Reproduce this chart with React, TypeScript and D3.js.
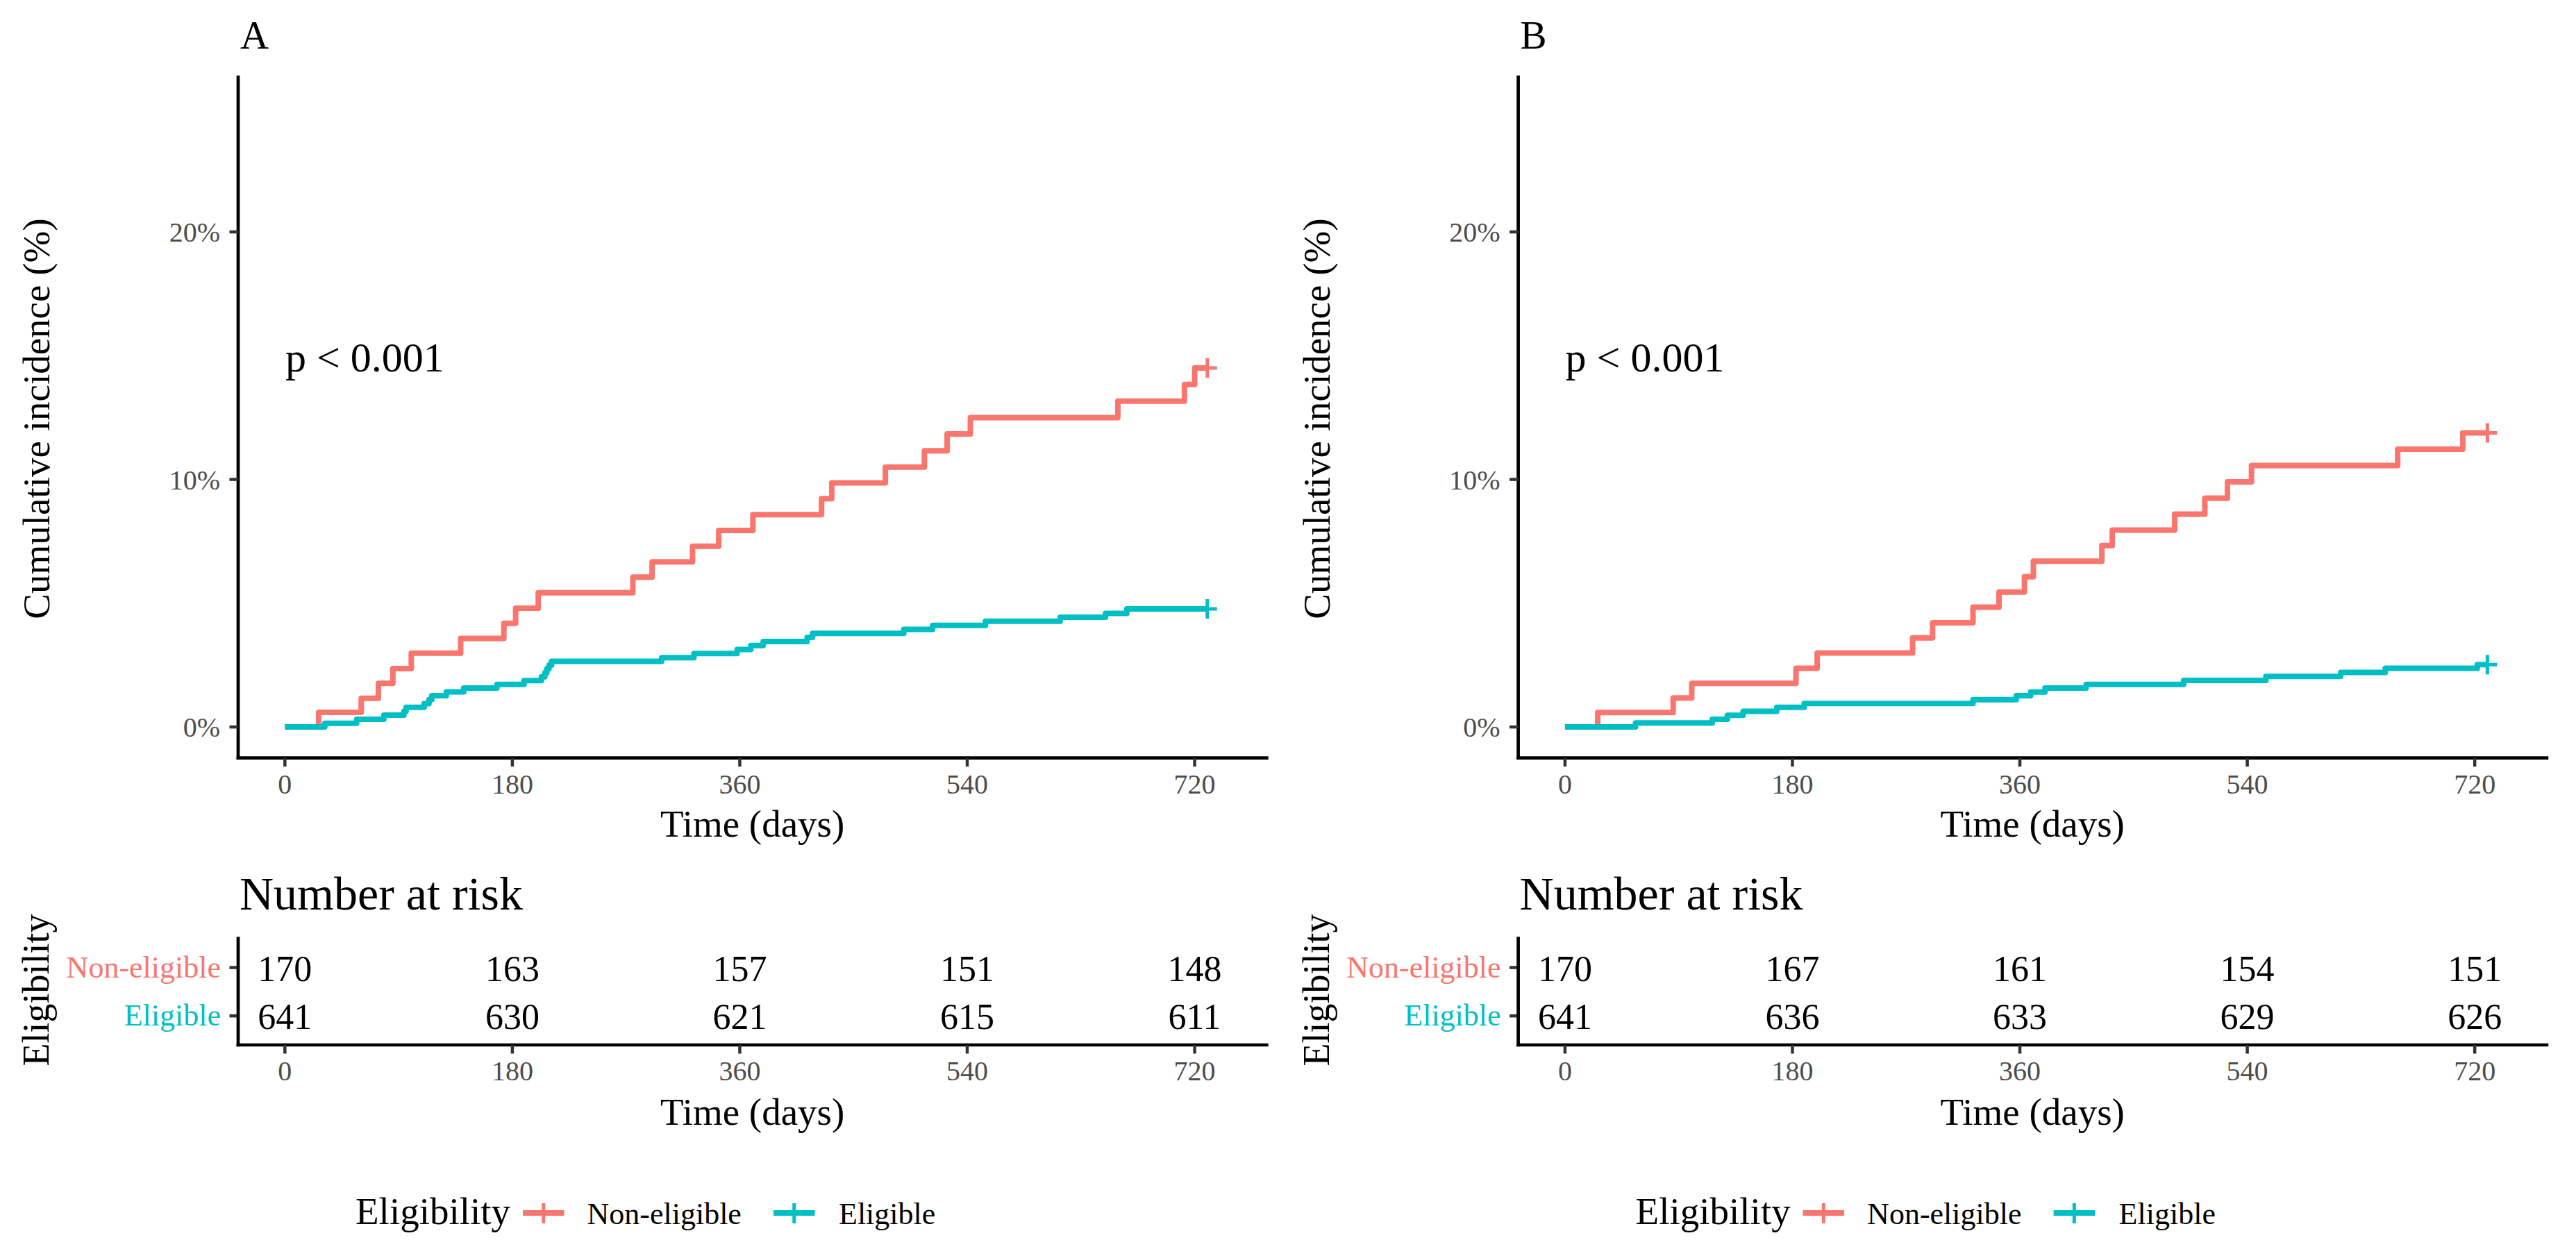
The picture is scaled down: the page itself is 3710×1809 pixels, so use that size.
import React from "react";
import * as d3 from "d3";

// ---------- data ----------
const tickDays = [0, 180, 360, 540, 720];
const yTicks = [0, 10, 20];
const groupNames = ["Non-eligible", "Eligible"];
const groupColors = ["#F8766D", "#00BFC4"];
const panelTags = ["A", "B"];
const pValueLabels = ["p < 0.001", "p < 0.001"];
const lastDay = 730;

// Panel A – cumulative incidence (%) step events
const timesA_non = [26.7, 60.4, 74.0, 85.4, 100.0, 139.1, 173.3, 182.6, 200.5, 275.4, 290.6, 322.6, 343.3, 370.4, 424.7, 432.8, 475.2, 506.1, 524.1, 542.5, 659.2, 711.9, 720];
const cumA_non = [0.59, 1.16, 1.76, 2.36, 2.98, 3.58, 4.19, 4.80, 5.42, 6.05, 6.67, 7.30, 7.94, 8.58, 9.22, 9.86, 10.50, 11.16, 11.84, 12.50, 13.16, 13.84, 14.50];
const timesA_eli = [31.6, 56.8, 78.3, 94.2, 95.9, 110.2, 114.0, 116.2, 127.8, 141.5, 167.8, 189.2, 203.0, 205.7, 207.3, 209.0, 211.0, 298.2, 323.7, 357.9, 368.7, 378.5, 413.3, 417.6, 489.8, 512.6, 554.4, 613.6, 649.4, 666.3];
const cumA_eli = [0.15, 0.31, 0.48, 0.63, 0.79, 0.94, 1.10, 1.26, 1.42, 1.57, 1.72, 1.87, 2.03, 2.19, 2.35, 2.50, 2.65, 2.80, 2.97, 3.13, 3.29, 3.45, 3.62, 3.78, 3.94, 4.10, 4.27, 4.43, 4.59, 4.77];
const riskA_non = [170, 163, 157, 151, 148];
const riskA_eli = [641, 630, 621, 615, 611];

// Panel B
const timesB_non = [25.9, 85.6, 100.3, 182.8, 199.6, 275.1, 290.9, 322.9, 343.5, 363.6, 370.7, 424.9, 433.1, 482.5, 506.4, 524.3, 543.3, 659.0, 710.5];
const cumB_non = [0.58, 1.17, 1.76, 2.37, 2.99, 3.60, 4.21, 4.84, 5.45, 6.07, 6.70, 7.33, 7.95, 8.60, 9.24, 9.90, 10.56, 11.22, 11.88];
const timesB_eli = [55.8, 116.6, 128.5, 141.0, 167.6, 189.3, 322.9, 357.1, 368.5, 379.9, 412.5, 489.6, 554.7, 613.9, 649.2, 722.0];
const cumB_eli = [0.16, 0.31, 0.47, 0.63, 0.79, 0.95, 1.10, 1.26, 1.41, 1.57, 1.72, 1.88, 2.04, 2.20, 2.37, 2.52];
const riskB_non = [170, 167, 161, 154, 151];
const riskB_eli = [641, 636, 633, 629, 626];

const panelSeries = [
  [
    { times: timesA_non, cum: cumA_non },
    { times: timesA_eli, cum: cumA_eli },
  ],
  [
    { times: timesB_non, cum: cumB_non },
    { times: timesB_eli, cum: cumB_eli },
  ],
];
const panelRisk = [
  [riskA_non, riskA_eli],
  [riskB_non, riskB_eli],
];

// ---------- layout ----------
const W = 3710;
const H = 1809;
const FONT = "'Liberation Serif', 'Times New Roman', serif";
const panelOffsets = [0, 1843.6];

const xScale = d3.scaleLinear().domain([-37, 777]).range([343, 1824.3]);
const yScale = d3.scaleLinear().domain([-1.25, 26.25]).range([1091.6, 111.2]);
const riskY = d3.scaleLinear().domain([0.4, 2.6]).range([1505, 1351.7]);

const stepLine = d3
  .line<[number, number]>()
  .x((d) => xScale(d[0]))
  .y((d) => yScale(d[1]))
  .curve(d3.curveStepAfter);

function Panel({ idx }: { idx: number }) {
  const ox = panelOffsets[idx];
  const series = panelSeries[idx];
  const risk = panelRisk[idx];
  const x0 = xScale.range()[0];
  const x1 = xScale.range()[1];
  const yTop = yScale.range()[1];
  const yBot = yScale.range()[0];
  const rTop = riskY.range()[1];
  const rBot = riskY.range()[0];
  const midX = (x0 + x1) / 2;
  const tickCol = "#333333";
  const labCol = "#4D4D4D";

  return (
    <g transform={`translate(${ox},0)`}>
      {/* tag */}
      <text x={346} y={70} fontSize={57} fontFamily={FONT} fill="#000">
        {panelTags[idx]}
      </text>

      {/* y axis title */}
      <text
        transform={`translate(71,603) rotate(-90)`}
        textAnchor="middle"
        fontSize={55}
        fontFamily={FONT}
        fill="#000"
      >
        Cumulative incidence (%)
      </text>

      {/* curves */}
      {series.map((s, gi) => {
        const pts: [number, number][] = [[0, 0]];
        s.times.forEach((t, i) => pts.push([t, s.cum[i]]));
        pts.push([lastDay, s.cum[s.cum.length - 1]]);
        const cx = xScale(lastDay);
        const cy = yScale(s.cum[s.cum.length - 1]);
        return (
          <g key={gi}>
            <path
              d={stepLine(pts) || ""}
              fill="none"
              stroke={groupColors[gi]}
              strokeWidth={8}
              strokeLinejoin="round"
              strokeLinecap="butt"
            />
            <path
              d={`M${cx - 14},${cy}H${cx + 14}M${cx},${cy - 14}V${cy + 14}`}
              stroke={groupColors[gi]}
              strokeWidth={5}
              fill="none"
            />
          </g>
        );
      })}

      {/* p value */}
      <text x={411} y={535} fontSize={60} fontFamily={FONT} fill="#000">
        {pValueLabels[idx]}
      </text>

      {/* main axes */}
      <line x1={x0} x2={x0} y1={yTop} y2={yBot} stroke="#000" strokeWidth={4.7} strokeLinecap="square" />
      <line x1={x0} x2={x1} y1={yBot} y2={yBot} stroke="#000" strokeWidth={4.7} strokeLinecap="square" />
      {yTicks.map((v) => (
        <g key={v}>
          <line x1={330.5} x2={x0} y1={yScale(v)} y2={yScale(v)} stroke={tickCol} strokeWidth={4.5} />
          <text
            x={317}
            y={yScale(v) + 14}
            textAnchor="end"
            fontSize={40}
            fontFamily={FONT}
            fill={labCol}
          >
            {v + "%"}
          </text>
        </g>
      ))}
      {tickDays.map((t) => (
        <g key={t}>
          <line x1={xScale(t)} x2={xScale(t)} y1={yBot} y2={yBot + 12.5} stroke={tickCol} strokeWidth={4.5} />
          <text x={xScale(t)} y={1143} textAnchor="middle" fontSize={40} fontFamily={FONT} fill={labCol}>
            {t}
          </text>
        </g>
      ))}
      <text x={midX} y={1205} textAnchor="middle" fontSize={55} fontFamily={FONT} fill="#000">
        Time (days)
      </text>

      {/* risk table */}
      <text x={345} y={1310} fontSize={68} fontFamily={FONT} fill="#000">
        Number at risk
      </text>
      <text
        transform={`translate(70,1426) rotate(-90)`}
        textAnchor="middle"
        fontSize={54}
        fontFamily={FONT}
        fill="#000"
      >
        Eligibility
      </text>
      {groupNames.map((g, gi) => {
        const lvl = 2 - gi;
        const cy = riskY(lvl);
        return (
          <g key={g}>
            <line x1={330.5} x2={x0} y1={cy} y2={cy} stroke={tickCol} strokeWidth={4.5} />
            <text x={318} y={cy + 14} textAnchor="end" fontSize={44} fontFamily={FONT} fill={groupColors[gi]}>
              {g}
            </text>
            {risk[gi].map((n, ti) => (
              <text
                key={ti}
                x={xScale(tickDays[ti])}
                y={cy + 19}
                textAnchor="middle"
                fontSize={52}
                fontFamily={FONT}
                fill="#000"
              >
                {n}
              </text>
            ))}
          </g>
        );
      })}
      <line x1={x0} x2={x0} y1={rTop} y2={rBot} stroke="#000" strokeWidth={4.7} strokeLinecap="square" />
      <line x1={x0} x2={x1} y1={rBot} y2={rBot} stroke="#000" strokeWidth={4.7} strokeLinecap="square" />
      {tickDays.map((t) => (
        <g key={"r" + t}>
          <line x1={xScale(t)} x2={xScale(t)} y1={rBot} y2={rBot + 12.5} stroke={tickCol} strokeWidth={4.5} />
          <text x={xScale(t)} y={1556} textAnchor="middle" fontSize={40} fontFamily={FONT} fill={labCol}>
            {t}
          </text>
        </g>
      ))}
      <text x={midX} y={1620} textAnchor="middle" fontSize={55} fontFamily={FONT} fill="#000">
        Time (days)
      </text>

      {/* legend */}
      <text x={512} y={1763} fontSize={55} fontFamily={FONT} fill="#000">
        Eligibility
      </text>
      {[
        { kx: 753, tx: 845.5 },
        { kx: 1114, tx: 1208 },
      ].map((p, gi) => (
        <g key={"leg" + gi}>
          <line x1={p.kx} x2={p.kx + 59.5} y1={1747} y2={1747} stroke={groupColors[gi]} strokeWidth={8} />
          <line
            x1={p.kx + 29.75}
            x2={p.kx + 29.75}
            y1={1733}
            y2={1762}
            stroke={groupColors[gi]}
            strokeWidth={5}
          />
          <text x={p.tx} y={1763} fontSize={44} fontFamily={FONT} fill="#000">
            {groupNames[gi]}
          </text>
        </g>
      ))}
    </g>
  );
}

export default function App() {
  return (
    <svg
      width={W}
      height={H}
      viewBox={`0 0 ${W} ${H}`}
      style={{ position: "absolute", left: 0, top: 0, background: "#fff" }}
    >
      <rect x={0} y={0} width={W} height={H} fill="#fff" />
      {panelOffsets.map((_, i) => (
        <Panel key={i} idx={i} />
      ))}
    </svg>
  );
}
